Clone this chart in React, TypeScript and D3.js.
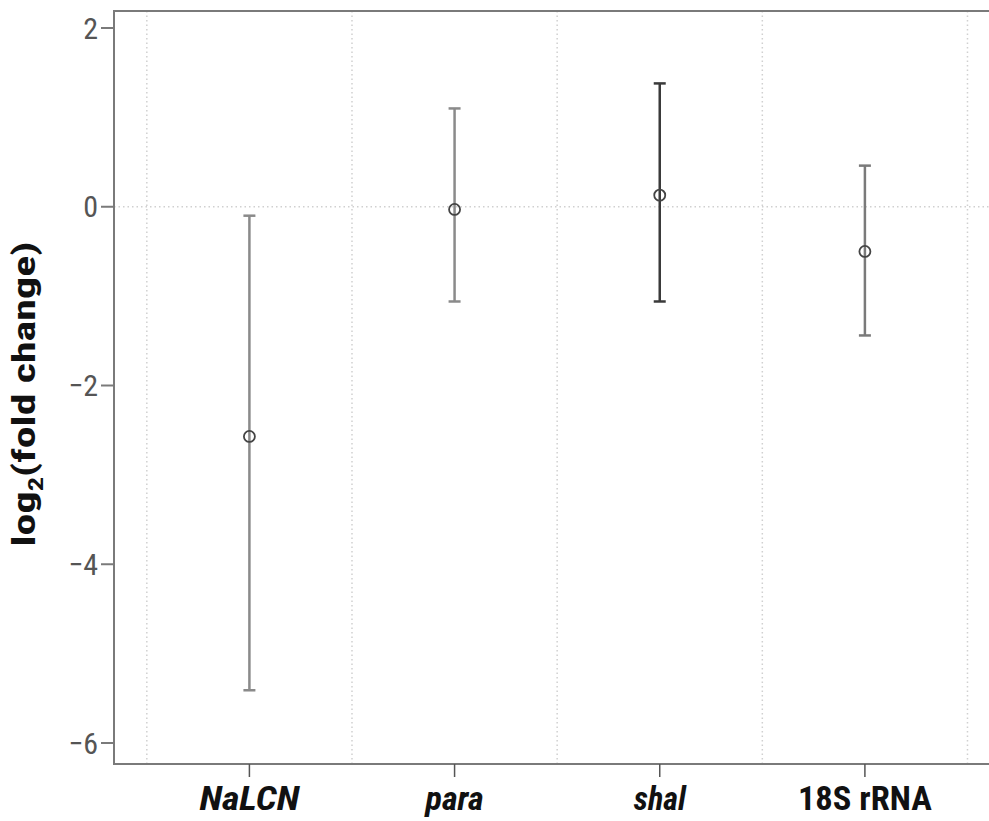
import React from "react";
import * as d3 from "d3";

const categories = ["NaLCN", "para", "shal", "18S rRNA"];
const italicFlags = [true, true, true, false];
const labelLengths = [100, 58, 52, 134];
const means = [-2.57, -0.03, 0.13, -0.5];
const upper = [-0.1, 1.1, 1.38, 0.46];
const lower = [-5.41, -1.06, -1.06, -1.44];
const barColors = ["#8a8a8a", "#8a8a8a", "#3a3a3a", "#7a7a7a"];
const yTicks = [2, 0, -2, -4, -6];

const W = 989;
const H = 821;
const left = 114;
const right = 988;
const top = 11;
const bottom = 764;

export default function App() {
  const x = d3.scaleLinear().domain([-0.66, 3.6]).range([left, right]);
  const y = d3.scaleLinear().domain([2, -6]).range([28, 743]);
  const gridX = d3.range(-0.5, 4, 1);
  const font = "'Liberation Sans Narrow', 'Roboto Condensed', 'Arial Narrow', sans-serif";
  const cap = 6;
  return (
    <svg width={W} height={H} style={{ position: "absolute", left: 0, top: 0, background: "#fff" }}>
      <rect x={0} y={0} width={W} height={H} fill="#fff" />
      {gridX.map((g, i) => (
        <line key={"gx" + i} x1={x(g)} x2={x(g)} y1={top} y2={bottom} stroke="#d0d0d0" strokeWidth={1.5} strokeDasharray="1.5,3" />
      ))}
      <line x1={left} x2={W} y1={y(0)} y2={y(0)} stroke="#d0d0d0" strokeWidth={1.5} strokeDasharray="1.5,3" />
      <line x1={left} x2={W} y1={top} y2={top} stroke="#7a7a7a" strokeWidth={2} />
      <line x1={left} x2={W} y1={bottom} y2={bottom} stroke="#7a7a7a" strokeWidth={2} />
      <line x1={left} x2={left} y1={top - 1} y2={bottom + 1} stroke="#7a7a7a" strokeWidth={2} />
      {yTicks.map((t) => (
        <g key={"yt" + t}>
          <line x1={left - 13} x2={left} y1={y(t)} y2={y(t)} stroke="#7a7a7a" strokeWidth={2} />
          <text x={left - 16} y={y(t)} dy="0.35em" textAnchor="end" fontFamily={font} fontSize={30} fill="#555">
            {t < 0 ? "\u2212" + Math.abs(t) : String(t)}
          </text>
        </g>
      ))}
      {categories.map((c, i) => (
        <g key={"xt" + c}>
          <line x1={x(i)} x2={x(i)} y1={bottom} y2={bottom + 13} stroke="#555" strokeWidth={1.5} />
          <text x={x(i)} y={810} textAnchor="middle" fontFamily={font} fontSize={34} fontWeight="bold" fontStyle={italicFlags[i] ? "italic" : "normal"} fill="#111" textLength={labelLengths[i]} lengthAdjust="spacingAndGlyphs">
            {c}
          </text>
        </g>
      ))}
      <text transform={`translate(35, 394) rotate(-90)`} textAnchor="middle" fontFamily={font} fontSize={31} fontWeight="bold" fill="#111" textLength={305} lengthAdjust="spacingAndGlyphs">
        log<tspan fontSize={20} dy={8}>2</tspan><tspan dy={-8}>(fold change)</tspan>
      </text>
      {categories.map((c, i) => (
        <g key={"eb" + c}>
          <line x1={x(i)} x2={x(i)} y1={y(upper[i])} y2={y(lower[i])} stroke={barColors[i]} strokeWidth={2.5} />
          <line x1={x(i) - cap} x2={x(i) + cap} y1={y(upper[i])} y2={y(upper[i])} stroke={barColors[i]} strokeWidth={2.5} />
          <line x1={x(i) - cap} x2={x(i) + cap} y1={y(lower[i])} y2={y(lower[i])} stroke={barColors[i]} strokeWidth={2.5} />
          <circle cx={x(i)} cy={y(means[i])} r={5.5} fill="none" stroke="#444" strokeWidth={1.8} />
        </g>
      ))}
    </svg>
  );
}
